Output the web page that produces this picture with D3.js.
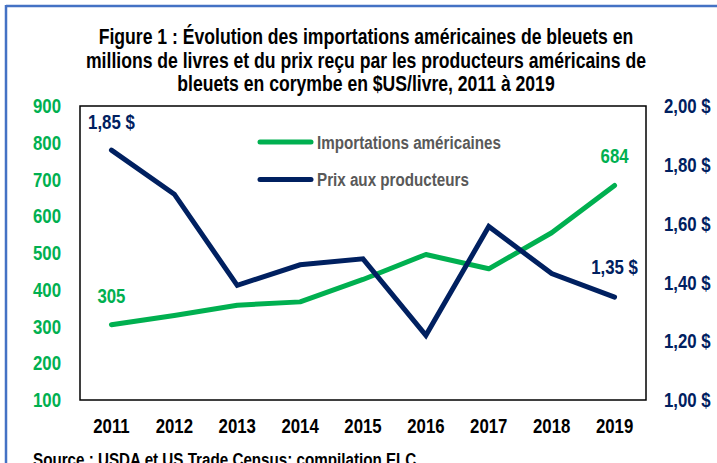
<!DOCTYPE html>
<html><head><meta charset="utf-8">
<script src="https://cdn.jsdelivr.net/npm/d3@7"></script>
<style>
html,body{margin:0;padding:0;background:#fff;overflow:hidden;}
svg{display:block;}
</style></head>
<body>
<svg id="c" width="717" height="463"></svg>
<script>
const years = ["2011","2012","2013","2014","2015","2016","2017","2018","2019"];
const imports = [305, 330, 358, 367, 428, 496, 457, 555, 684];
const prices = [1.85, 1.70, 1.39, 1.46, 1.48, 1.22, 1.59, 1.43, 1.35];
const leftTicks = [100,200,300,400,500,600,700,800,900];
const rightTicks = [1.0,1.2,1.4,1.6,1.8,2.0];
const titleLines = [
  "Figure 1 : Évolution des importations américaines de bleuets en",
  "millions de livres et du prix reçu par les producteurs américains de",
  "bleuets en corymbe en $US/livre, 2011 à 2019"
];
const legendItems = [
  {label:"Importations américaines", color:"#00b050"},
  {label:"Prix aux producteurs", color:"#002060"}
];
const source = "Source : USDA et US Trade Census; compilation ELC";

// Arial-Narrow look: Liberation Sans Bold compressed horizontally
const FONT = "'Liberation Sans',Arial,sans-serif";
const SX = 0.8;
const FS = 21;
const svg = d3.select("#c");
const m = {l:80, r:646, t:106, b:400};
const place = (sel,xx,yy)=>sel.attr("transform",`translate(${xx},${yy}) scale(${SX},1)`);

// outer border
svg.append("line").attr("x1",6).attr("y1",6).attr("x2",717).attr("y2",6).attr("stroke","#4472c4").attr("stroke-width",2.5);
svg.append("line").attr("x1",6).attr("y1",5).attr("x2",6).attr("y2",463).attr("stroke","#4472c4").attr("stroke-width",2.5);

// title
svg.append("g").selectAll("text").data(titleLines).join("text")
  .attr("transform",(d,i)=>`translate(366,${44+i*23.5}) scale(${SX},1)`)
  .attr("text-anchor","middle").attr("font-family",FONT).attr("font-weight","bold")
  .attr("font-size",22).attr("fill","#000").text(d=>d);

const x = d3.scaleBand().domain(years).range([m.l,m.r]);
const yL = d3.scaleLinear().domain([100,900]).range([m.b,m.t]);
const yR = d3.scaleLinear().domain([1.0,2.0]).range([m.b,m.t]);

// plot box
svg.append("rect").attr("x",m.l).attr("y",m.t).attr("width",m.r-m.l).attr("height",m.b-m.t)
  .attr("fill","none").attr("stroke","#000").attr("stroke-width",1.5);

// left axis
const gL = svg.append("g").attr("transform",`translate(${m.l-19},0)`)
  .call(d3.axisLeft(yL).tickValues(leftTicks).tickSize(0).tickPadding(0));
gL.select(".domain").remove();
gL.selectAll("text").attr("font-family",FONT).attr("font-weight","bold").attr("font-size",FS)
  .attr("fill","#00b050").attr("transform",`scale(${SX},1)`);

// right axis
const fr = d3.format(".2f");
const gR = svg.append("g").attr("transform",`translate(${m.r+18},0)`)
  .call(d3.axisRight(yR).tickValues(rightTicks).tickSize(0).tickPadding(0)
    .tickFormat(d=>fr(d).replace(".",",")+" $"));
gR.select(".domain").remove();
gR.selectAll("text").attr("font-family",FONT).attr("font-weight","bold").attr("font-size",FS)
  .attr("fill","#002060").attr("transform",`scale(${SX},1)`);

// x axis
const gX = svg.append("g").attr("transform",`translate(0,${m.b+18.5})`)
  .call(d3.axisBottom(x).tickSize(0).tickPadding(0));
gX.select(".domain").remove();
gX.selectAll("text").attr("font-family",FONT).attr("font-weight","bold").attr("font-size",FS)
  .attr("fill","#000").attr("transform",`scale(${SX},1)`);

// lines
const cx = d=>x(d)+x.bandwidth()/2;
svg.append("path").datum(years.map((d,i)=>[cx(d),yL(imports[i])]))
  .attr("d",d3.line()).attr("fill","none").attr("stroke","#00b050").attr("stroke-width",5)
  .attr("stroke-linejoin","round").attr("stroke-linecap","round");
svg.append("path").datum(years.map((d,i)=>[cx(d),yR(prices[i])]))
  .attr("d",d3.line()).attr("fill","none").attr("stroke","#002060").attr("stroke-width",5)
  .attr("stroke-linejoin","miter").attr("stroke-linecap","round");

// data labels
const lab = (t,xx,yy,c)=>place(svg.append("text"),xx,yy).attr("text-anchor","middle")
  .attr("font-family",FONT).attr("font-weight","bold").attr("font-size",FS).attr("fill",c).text(t);
const last = years.length-1;
lab(String(imports[0]), cx(years[0]), yL(imports[0])-22, "#00b050");
lab(String(imports[last]), cx(years[last]), yL(imports[last])-22, "#00b050");
lab(fr(prices[0]).replace(".",",")+" $", cx(years[0]), yR(prices[0])-21.5, "#002060");
lab(fr(prices[last]).replace(".",",")+" $", cx(years[last]), yR(prices[last])-23, "#002060");

// legend
const lg = svg.append("g").selectAll("g").data(legendItems).join("g")
  .attr("transform",(d,i)=>`translate(258,${142+i*37.5})`);
lg.append("line").attr("x1",2).attr("x2",53).attr("y1",0).attr("y2",0)
  .attr("stroke",d=>d.color).attr("stroke-width",5).attr("stroke-linecap","round");
lg.append("text").attr("transform",`translate(59,6.5) scale(${SX},1)`).attr("font-family",FONT).attr("font-weight","bold")
  .attr("font-size",19).attr("fill","#595959").text(d=>d.label);

// source
place(svg.append("text"),33,466).attr("font-family",FONT).attr("font-weight","bold")
  .attr("font-size",19).attr("fill","#000").text(source);
</script>
</body></html>
